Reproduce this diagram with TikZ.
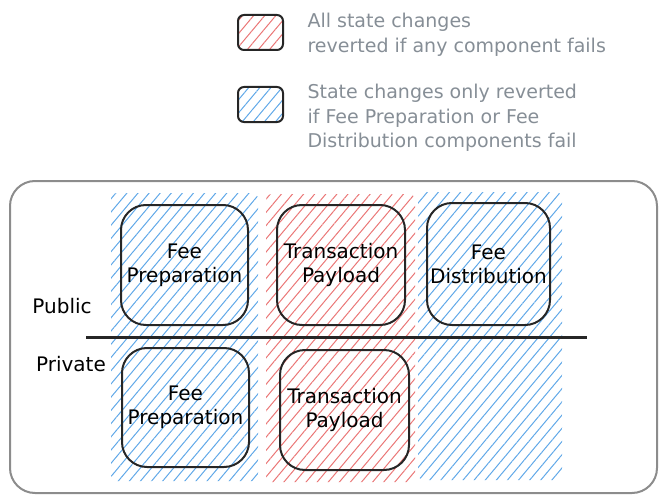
\documentclass[tikz,border=0pt]{standalone}
\usepackage{xcolor}
\usepackage{tikz}
\usepackage{fontspec}
\setmainfont{DejaVu Sans}
\definecolor{statered}{RGB}{234, 118, 118}
\definecolor{stateblue}{RGB}{96, 168, 232}
\definecolor{stategray}{RGB}{134, 142, 150}
\definecolor{framegray}{RGB}{140, 140, 140}
\usetikzlibrary{arrows.meta,positioning,patterns.meta,calc}

\begin{document}
\begin{tikzpicture}[x=1pt, y=-1pt, every node/.style={font=\fontsize{20}{24}\selectfont}]
    % Define styles
    \tikzstyle{column} = [rectangle, rounded corners=6pt, inner sep=0pt,
                          minimum width=147pt, minimum height=288pt]
    \tikzstyle{component} = [rectangle, draw=black!85, line width=2pt, rounded corners=25pt,
                             inner sep=0pt, minimum width=127pt, minimum height=120pt, align=center]
    \tikzstyle{legendbox} = [rectangle, draw=black!85, line width=2pt, rounded corners=6pt,
                             inner sep=0pt, minimum width=45pt, minimum height=35pt]
    \tikzstyle{legendtext} = [anchor=west, align=left, text=stategray,
                              font=\fontsize{19}{24.5}\selectfont]
    \tikzstyle{redhatch} = [pattern={Lines[angle=50, distance=8.5pt, line width=1pt]}, pattern color=statered]
    \tikzstyle{bluehatch} = [pattern={Lines[angle=50, distance=8.5pt, line width=1pt]}, pattern color=stateblue]

    \useasboundingbox (0,0) rectangle (667,503);

    % Legend
    \node[legendbox, redhatch] (legred) at (260.5,32.5) {};
    \node[legendtext] (legredtext) at (304,35) {All state changes\\reverted if any component fails};
    \node[legendbox, bluehatch] (legblue) at (260.5,104.5) {};
    \node[legendtext] (legbluetext) at (304,118) {State changes only reverted\\if Fee Preparation or Fee\\Distribution components fail};

    % Outer frame
    \node[rectangle, draw=framegray, line width=2pt, rounded corners=25pt,
          minimum width=647pt, minimum height=312pt] (frame) at (333.5,337) {};

    % Hatched columns
    \node[column, bluehatch] (colprep) at (184.5,337) {};
    \node[column, redhatch, minimum width=149pt] (colpay) at (340.5,338) {};
    \node[column, bluehatch, minimum width=144pt] (coldist) at (490,336) {};

    % Public components
    \node[component] (preppub) at (184.5,265) {Fee\\Preparation};
    \node[component, minimum width=128pt] (paypub) at (341,265) {Transaction\\Payload};
    \node[component, minimum width=123pt, minimum height=122pt] (distpub) at (488.5,264) {Fee\\Distribution};

    % Private components
    \node[component, minimum height=119pt] (preppriv) at (185.5,407.5) {Fee\\Preparation};
    \node[component, minimum width=129pt] (paypriv) at (344.5,410) {Transaction\\Payload};

    % Public / private split
    \coordinate (splitl) at (86,337);
    \coordinate (splitr) at (587,337);
    \draw[line width=3pt, black!85] (splitl) -- (splitr);
    \node[font=\fontsize{20}{24}\selectfont] (public) at (62,306) {Public};
    \node[font=\fontsize{20}{24}\selectfont] (private) at (71,364) {Private};
\end{tikzpicture}
\end{document}
